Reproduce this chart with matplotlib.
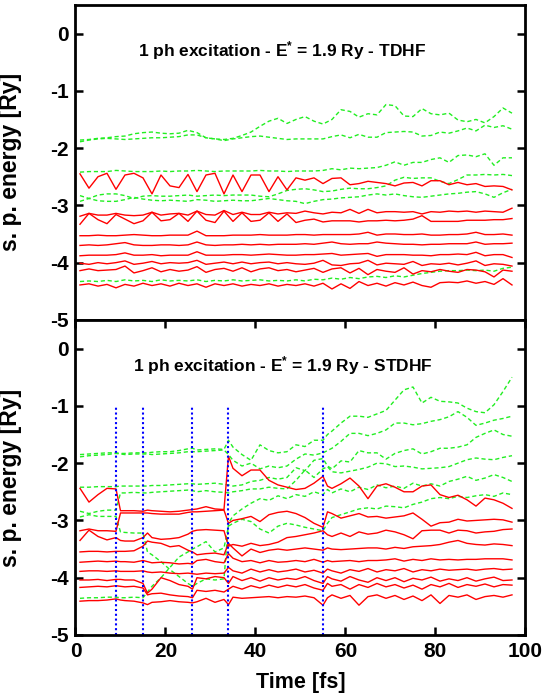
import matplotlib
matplotlib.use("Agg")
import matplotlib.pyplot as plt

plt.rcParams['font.family'] = ['Liberation Sans', 'DejaVu Sans']
plt.rcParams['font.weight'] = 'bold'
plt.rcParams['axes.unicode_minus'] = False
plt.rcParams['mathtext.fontset'] = 'custom'
plt.rcParams['mathtext.bf'] = 'Liberation Sans:bold'
plt.rcParams['mathtext.rm'] = 'Liberation Sans:bold'
plt.rcParams['mathtext.default'] = 'bf'

# ---- time grids [fs] ----
t_top = [1, 3, 5, 7, 9, 11, 13, 15, 17, 19, 21, 23, 25, 27, 29, 31, 33, 35, 37, 39,
         41, 43, 45, 47, 49, 51, 53, 55, 57, 59, 61, 63, 65, 67, 69, 71, 73, 75, 77, 79,
         81, 83, 85, 87, 89, 91, 93, 95, 97]
t_bot = [1, 3, 5, 7, 9, 10, 11, 13, 15, 16, 17, 19, 21, 23, 25, 26, 27, 29, 31, 33,
         34, 35, 37, 39, 41, 43, 45, 47, 49, 51, 53, 55, 56, 57, 59, 61, 63, 65, 67, 69,
         71, 73, 75, 77, 79, 81, 83, 85, 87, 89, 91, 93, 95, 97]

# ---- TDHF panel: occupied (red) and empty (green) s.p. energies [Ry] ----
top_g1 = [-1.86, -1.85, -1.83, -1.82, -1.80, -1.79, -1.75, -1.73, -1.72, -1.74, -1.75, -1.74, -1.69, -1.73, -1.82, -1.84, -1.85, -1.83, -1.78, -1.72,
          -1.62, -1.53, -1.48, -1.57, -1.50, -1.45, -1.53, -1.58, -1.50, -1.33, -1.36, -1.46, -1.40, -1.42, -1.24, -1.26, -1.44, -1.45, -1.31, -1.40,
          -1.42, -1.39, -1.51, -1.54, -1.50, -1.56, -1.45, -1.30, -1.39]
top_g2 = [-1.89, -1.86, -1.84, -1.83, -1.84, -1.85, -1.84, -1.83, -1.82, -1.82, -1.81, -1.80, -1.77, -1.77, -1.82, -1.84, -1.87, -1.84, -1.82, -1.80,
          -1.79, -1.81, -1.83, -1.85, -1.84, -1.84, -1.84, -1.84, -1.80, -1.77, -1.82, -1.76, -1.81, -1.81, -1.73, -1.72, -1.71, -1.72, -1.79, -1.78,
          -1.72, -1.74, -1.70, -1.65, -1.70, -1.60, -1.64, -1.61, -1.67]
top_g3 = [-2.42, -2.41, -2.41, -2.41, -2.39, -2.40, -2.41, -2.41, -2.41, -2.40, -2.41, -2.40, -2.40, -2.39, -2.40, -2.41, -2.40, -2.40, -2.40, -2.40,
          -2.39, -2.40, -2.40, -2.41, -2.40, -2.40, -2.40, -2.39, -2.36, -2.38, -2.35, -2.36, -2.35, -2.34, -2.30, -2.24, -2.30, -2.25, -2.25, -2.20,
          -2.17, -2.25, -2.13, -2.12, -2.15, -2.10, -2.30, -2.17, -2.17]
top_g4 = [-2.83, -2.88, -2.82, -2.80, -2.80, -2.83, -2.88, -2.84, -2.83, -2.84, -2.84, -2.83, -2.82, -2.84, -2.83, -2.82, -2.83, -2.82, -2.82, -2.82,
          -2.84, -2.85, -2.80, -2.74, -2.72, -2.71, -2.73, -2.76, -2.75, -2.72, -2.70, -2.71, -2.71, -2.69, -2.66, -2.56, -2.51, -2.53, -2.52, -2.52,
          -2.58, -2.62, -2.55, -2.47, -2.47, -2.46, -2.47, -2.46, -2.48]
top_g5 = [-2.93, -2.88, -2.92, -2.93, -2.93, -2.90, -2.86, -2.89, -2.91, -2.92, -2.91, -2.92, -2.93, -2.90, -2.91, -2.93, -2.92, -2.91, -2.92, -2.92,
          -2.90, -2.88, -2.90, -2.92, -2.93, -2.97, -2.93, -2.90, -2.89, -2.87, -2.86, -2.85, -2.82, -2.80, -2.82, -2.80, -2.83, -2.85, -2.86, -2.84,
          -2.82, -2.80, -2.79, -2.77, -2.76, -2.80, -2.86, -2.78, -2.72]
top_g6 = [-4.33, -4.32, -4.33, -4.31, -4.33, -4.30, -4.32, -4.31, -4.33, -4.30, -4.32, -4.31, -4.32, -4.30, -4.33, -4.31, -4.32, -4.30, -4.32, -4.31,
          -4.30, -4.32, -4.31, -4.32, -4.30, -4.32, -4.29, -4.30, -4.27, -4.29, -4.26, -4.28, -4.25, -4.24, -4.26, -4.23, -4.25, -4.22, -4.19, -4.17,
          -4.15, -4.14, -4.14, -4.13, -4.14, -4.13, -4.15, -4.10, -4.08]

top_r1 = [-2.45, -2.70, -2.50, -2.44, -2.72, -2.47, -2.44, -2.52, -2.80, -2.47, -2.66, -2.69, -2.46, -2.76, -2.47, -2.44, -2.80, -2.47, -2.76, -2.47,
          -2.47, -2.76, -2.50, -2.73, -2.52, -2.56, -2.52, -2.62, -2.53, -2.52, -2.64, -2.62, -2.58, -2.60, -2.62, -2.66, -2.61, -2.60, -2.66, -2.57,
          -2.57, -2.64, -2.60, -2.64, -2.62, -2.67, -2.66, -2.67, -2.73]
top_r2 = [-3.19, -3.14, -3.17, -3.17, -3.14, -3.17, -3.18, -3.17, -3.12, -3.17, -3.15, -3.14, -3.17, -3.10, -3.16, -3.17, -3.09, -3.16, -3.12, -3.16,
          -3.16, -3.12, -3.15, -3.13, -3.14, -3.10, -3.13, -3.15, -3.12, -3.13, -3.07, -3.14, -3.07, -3.13, -3.11, -3.11, -3.12, -3.11, -3.15, -3.11,
          -3.12, -3.10, -3.11, -3.10, -3.12, -3.10, -3.11, -3.12, -3.05]
top_r3 = [-3.33, -3.14, -3.25, -3.32, -3.16, -3.24, -3.32, -3.27, -3.12, -3.27, -3.25, -3.14, -3.28, -3.10, -3.26, -3.30, -3.10, -3.28, -3.13, -3.28,
          -3.26, -3.13, -3.28, -3.15, -3.30, -3.26, -3.24, -3.29, -3.27, -3.27, -3.27, -3.29, -3.27, -3.27, -3.26, -3.27, -3.26, -3.24, -3.18, -3.28,
          -3.28, -3.28, -3.28, -3.26, -3.26, -3.26, -3.25, -3.25, -3.23]
top_r4 = [-3.53, -3.53, -3.52, -3.53, -3.53, -3.52, -3.51, -3.52, -3.53, -3.53, -3.52, -3.52, -3.52, -3.45, -3.53, -3.53, -3.53, -3.52, -3.52, -3.52,
          -3.51, -3.52, -3.52, -3.52, -3.51, -3.51, -3.52, -3.51, -3.51, -3.51, -3.51, -3.50, -3.47, -3.52, -3.50, -3.50, -3.51, -3.51, -3.50, -3.52,
          -3.52, -3.51, -3.51, -3.50, -3.47, -3.51, -3.51, -3.50, -3.52]
top_r5 = [-3.70, -3.69, -3.70, -3.69, -3.67, -3.65, -3.69, -3.70, -3.70, -3.69, -3.69, -3.70, -3.69, -3.64, -3.69, -3.70, -3.69, -3.69, -3.68, -3.69,
          -3.68, -3.69, -3.68, -3.68, -3.68, -3.67, -3.68, -3.66, -3.64, -3.67, -3.68, -3.67, -3.67, -3.64, -3.66, -3.67, -3.68, -3.68, -3.69, -3.68,
          -3.68, -3.67, -3.67, -3.67, -3.64, -3.68, -3.67, -3.67, -3.66]
top_r6 = [-3.88, -3.87, -3.87, -3.87, -3.86, -3.83, -3.87, -3.87, -3.86, -3.88, -3.87, -3.87, -3.87, -3.81, -3.87, -3.87, -3.87, -3.86, -3.86, -3.87,
          -3.86, -3.85, -3.86, -3.87, -3.87, -3.86, -3.86, -3.85, -3.84, -3.87, -3.86, -3.85, -3.84, -3.89, -3.86, -3.86, -3.86, -3.87, -3.87, -3.88,
          -3.86, -3.86, -3.85, -3.86, -3.82, -3.88, -3.86, -3.86, -3.91]
top_r7 = [-4.01, -4.03, -4.00, -4.02, -4.00, -3.97, -4.03, -4.01, -3.98, -4.02, -4.00, -4.01, -4.00, -3.96, -4.03, -4.01, -3.99, -4.02, -3.99, -4.02,
          -4.00, -3.99, -4.02, -4.00, -4.02, -4.03, -4.01, -3.96, -4.04, -4.05, -4.02, -4.01, -3.96, -4.04, -4.01, -4.02, -4.03, -3.98, -4.05, -4.02,
          -4.03, -4.01, -4.04, -4.01, -3.97, -4.05, -4.02, -4.03, -4.06]
top_r8 = [-4.14, -4.11, -4.14, -4.13, -4.12, -4.06, -4.18, -4.14, -4.09, -4.16, -4.12, -4.15, -4.13, -4.07, -4.17, -4.12, -4.10, -4.15, -4.09, -4.16,
          -4.11, -4.09, -4.14, -4.12, -4.16, -4.13, -4.10, -4.17, -4.11, -4.09, -4.18, -4.10, -4.21, -4.12, -4.15, -4.17, -4.09, -4.20, -4.14, -4.16,
          -4.12, -4.15, -4.17, -4.12, -4.13, -4.16, -4.25, -4.13, -4.15]
top_r9 = [-4.39, -4.37, -4.41, -4.38, -4.44, -4.38, -4.41, -4.36, -4.40, -4.37, -4.41, -4.36, -4.40, -4.37, -4.43, -4.37, -4.40, -4.37, -4.41, -4.38,
          -4.40, -4.37, -4.41, -4.38, -4.40, -4.37, -4.41, -4.36, -4.46, -4.37, -4.45, -4.33, -4.40, -4.36, -4.41, -4.35, -4.39, -4.34, -4.40, -4.43,
          -4.35, -4.34, -4.35, -4.32, -4.36, -4.33, -4.38, -4.28, -4.39]

# ---- STDHF panel ----
bot_g1 = [-1.85, -1.84, -1.83, -1.82, -1.82, -1.83, -1.83, -1.82, -1.82, -1.82, -1.81, -1.80, -1.80, -1.78, -1.75, -1.74, -1.77, -1.76, -1.75, -1.76,
          -1.60, -1.72, -1.85, -1.95, -1.68, -1.78, -1.82, -1.80, -1.68, -1.71, -1.60, -1.60,
          -1.50, -1.44, -1.30, -1.18, -1.18, -1.20, -1.14, -1.08, -0.90, -0.72, -0.67, -0.95, -0.85, -0.92, -0.93, -0.95, -1.04, -1.10, -1.12, -0.98, -0.75, -0.50]
bot_g2 = [-1.89, -1.87, -1.86, -1.85, -1.83, -1.84, -1.85, -1.84, -1.84, -1.84, -1.85, -1.84, -1.83, -1.82, -1.80, -1.80, -1.80, -1.79, -1.78, -1.77,
          -1.85, -1.95, -2.05, -2.00, -2.10, -2.05, -2.08, -2.05, -1.93, -1.84, -1.86, -1.82,
          -1.78, -1.74, -1.62, -1.48, -1.48, -1.52, -1.48, -1.42, -1.30, -1.30, -1.33, -1.31, -1.27, -1.24, -1.19, -1.10, -1.20, -1.34, -1.30, -1.25, -1.22, -1.18]
bot_g3 = [-2.42, -2.42, -2.41, -2.41, -2.41, -2.40, -2.40, -2.40, -2.40, -2.40, -2.39, -2.39, -2.38, -2.37, -2.36, -2.36, -2.37, -2.36, -2.35, -2.37,
          -2.38, -2.40, -2.38, -2.32, -2.30, -2.25, -2.28, -2.25, -2.08, -2.13, -1.95, -1.92,
          -2.05, -2.10, -1.96, -1.98, -1.78, -1.82, -1.82, -1.93, -1.83, -1.78, -1.75, -1.84, -1.80, -1.74, -1.74, -1.72, -1.68, -1.55, -1.48, -1.42, -1.50, -1.53]
bot_g4 = [-2.84, -2.88, -2.84, -2.82, -2.82, -2.52, -2.52, -2.51, -2.52, -2.52, -2.51, -2.50, -2.49, -2.48, -2.47, -2.48, -2.50, -2.48, -2.50, -2.51,
          -2.52, -2.50, -2.48, -2.45, -2.45, -2.42, -2.44, -2.45, -2.30, -2.12, -2.25, -2.10,
          -2.06, -2.15, -2.17, -2.14, -2.11, -2.07, -2.00, -2.01, -2.06, -2.05, -2.07, -2.10, -2.09, -2.08, -2.06, -2.00, -1.94, -1.91, -1.93, -1.94, -1.90, -1.87]
bot_g5 = [-2.94, -2.90, -2.93, -2.93, -2.93, -3.20, -3.21, -3.22, -3.22, -3.55, -3.60, -3.72, -3.86, -3.98, -4.10, -4.15, -4.10, -4.02, -4.04, -4.02,
          -3.05, -2.92, -2.80, -2.70, -2.62, -2.65, -2.57, -2.62, -2.55, -2.58, -2.50, -2.55,
          -2.46, -2.52, -2.45, -2.50, -2.42, -2.46, -2.38, -2.43, -2.40, -2.44, -2.35, -2.40, -2.36, -2.40, -2.32, -2.28, -2.23, -2.30, -2.26, -2.20, -2.25, -2.32]
bot_g6 = [-4.36, -4.35, -4.35, -4.34, -4.34, -4.35, -4.35, -4.34, -4.35, -4.25, -4.15, -4.00, -3.82, -3.64, -3.55, -3.50, -3.46, -3.37, -3.55, -3.48,
          -3.10, -3.05, -2.98, -3.02, -3.15, -3.22, -3.10, -3.05, -3.08, -3.12, -3.15, -3.18,
          -3.05, -2.95, -2.90, -2.85, -2.80, -2.78, -2.80, -2.75, -2.76, -2.78, -2.72, -2.68, -2.62, -2.60, -2.62, -2.58, -2.60, -2.57, -2.55, -2.58, -2.52, -2.55]

bot_r1 = [-2.44, -2.68, -2.55, -2.44, -2.45, -2.83, -2.83, -2.83, -2.84, -2.82, -2.83, -2.84, -2.85, -2.84, -2.82, -2.81, -2.80, -2.76, -2.80, -2.81,
          -1.88, -2.09, -2.22, -2.12, -2.12, -2.30, -2.38, -2.42, -2.46, -2.44, -2.35, -2.23,
          -2.40, -2.44, -2.36, -2.26, -2.40, -2.62, -2.40, -2.36, -2.42, -2.50, -2.50, -2.40, -2.38, -2.55, -2.60, -2.56, -2.64, -2.75, -2.61, -2.64, -2.70, -2.79]
bot_r2 = [-3.18, -3.15, -3.18, -3.18, -3.19, -2.87, -2.87, -2.87, -2.87, -2.87, -2.88, -2.89, -2.89, -2.89, -2.86, -2.85, -2.85, -2.84, -2.83, -2.82,
          -3.05, -3.00, -2.97, -2.93, -3.02, -2.90, -2.86, -2.84, -2.88, -2.95, -3.05, -3.12,
          -2.85, -2.88, -2.96, -2.92, -2.88, -2.94, -2.93, -2.96, -2.94, -2.92, -2.87, -2.98, -3.10, -3.04, -3.03, -2.98, -3.01, -3.00, -2.99, -2.98, -2.99, -3.03]
bot_r3 = [-3.35, -3.17, -3.28, -3.34, -3.30, -3.35, -3.36, -3.36, -3.30, -3.22, -3.30, -3.33, -3.32, -3.30, -3.24, -3.19, -3.17, -3.16, -3.17, -3.18,
          -3.45, -3.42, -3.45, -3.40, -3.44, -3.42, -3.38, -3.30, -3.28, -3.25, -3.22, -3.18,
          -3.25, -3.28, -3.22, -3.28, -3.20, -3.24, -3.22, -3.17, -3.20, -3.25, -3.32, -3.18, -3.17, -3.17, -3.22, -3.17, -3.18, -3.22, -3.20, -3.19, -3.16, -3.15]
bot_r4 = [-3.55, -3.54, -3.54, -3.55, -3.54, -3.54, -3.54, -3.53, -3.45, -3.36, -3.38, -3.40, -3.46, -3.44, -3.52, -3.55, -3.60, -3.58, -3.57, -3.60,
          -3.40, -3.48, -3.62, -3.50, -3.56, -3.52, -3.50, -3.52, -3.50, -3.48, -3.50, -3.52,
          -3.48, -3.50, -3.51, -3.50, -3.49, -3.48, -3.48, -3.50, -3.47, -3.49, -3.46, -3.45, -3.44, -3.42, -3.38, -3.35, -3.40, -3.42, -3.43, -3.41, -3.42, -3.44]
bot_r5 = [-3.73, -3.72, -3.71, -3.72, -3.71, -3.72, -3.72, -3.73, -3.70, -3.72, -3.74, -3.73, -3.74, -3.76, -3.75, -3.76, -3.70, -3.68, -3.72, -3.74,
          -3.58, -3.66, -3.72, -3.70, -3.74, -3.70, -3.73, -3.72, -3.70, -3.72, -3.68, -3.73,
          -3.70, -3.72, -3.71, -3.70, -3.72, -3.70, -3.70, -3.69, -3.67, -3.71, -3.68, -3.70, -3.67, -3.69, -3.68, -3.69, -3.68, -3.68, -3.67, -3.67, -3.67, -3.69]
bot_r6 = [-3.89, -3.88, -3.88, -3.89, -3.88, -3.89, -3.89, -3.89, -3.88, -3.90, -3.91, -3.90, -3.92, -3.93, -3.92, -3.93, -3.94, -3.92, -3.93, -3.92,
          -3.82, -3.88, -3.92, -3.85, -3.90, -3.86, -3.90, -3.88, -3.85, -3.90, -3.87, -3.92,
          -3.85, -3.88, -3.92, -3.86, -3.89, -3.84, -3.90, -3.86, -3.88, -3.84, -3.90, -3.86, -3.88, -3.85, -3.87, -3.86, -3.85, -3.87, -3.85, -3.84, -3.86, -3.85]
bot_r7 = [-4.04, -4.04, -4.03, -4.05, -4.03, -4.03, -4.04, -4.04, -4.10, -4.27, -4.20, -4.00, -4.05, -4.12, -4.15, -4.20, -4.00, -4.02, -3.98, -4.00,
          -4.10, -3.98, -4.05, -4.00, -4.06, -4.00, -4.04, -4.01, -4.03, -3.98, -4.05, -4.10,
          -3.98, -4.02, -4.06, -3.98, -4.04, -4.08, -4.00, -4.05, -4.00, -4.07, -4.01, -4.04, -3.99, -4.06, -4.02, -4.05, -4.00, -4.06, -4.02, -3.99, -4.05, -4.04]
bot_r8 = [-4.17, -4.16, -4.15, -4.16, -4.14, -4.15, -4.16, -4.15, -4.18, -4.30, -4.28, -4.27, -4.30, -4.32, -4.33, -4.35, -4.22, -4.24, -4.22, -4.25,
          -4.20, -4.15, -4.20, -4.14, -4.18, -4.13, -4.17, -4.13, -4.16, -4.12, -4.18, -4.22,
          -4.10, -4.15, -4.12, -4.20, -4.12, -4.17, -4.10, -4.16, -4.12, -4.18, -4.13, -4.20, -4.12, -4.16, -4.10, -4.17, -4.12, -4.15, -4.11, -4.16, -4.12, -4.13]
bot_r9 = [-4.41, -4.40, -4.40, -4.39, -4.37, -4.39, -4.40, -4.41, -4.44, -4.47, -4.43, -4.42, -4.40, -4.42, -4.43, -4.44, -4.42, -4.36, -4.43, -4.38,
          -4.47, -4.34, -4.36, -4.35, -4.34, -4.33, -4.35, -4.33, -4.34, -4.32, -4.35, -4.48,
          -4.35, -4.30, -4.36, -4.31, -4.48, -4.33, -4.30, -4.36, -4.31, -4.38, -4.32, -4.40, -4.30, -4.45, -4.31, -4.34, -4.30, -4.38, -4.33, -4.31, -4.34, -4.30]

# times of the stochastic jumps (blue dotted markers)
jump_times = [9, 15, 26, 34, 55]
jump_top = -1.0

top_green = [top_g1, top_g2, top_g3, top_g4, top_g5, top_g6]
top_red = [top_r1, top_r2, top_r3, top_r4, top_r5, top_r6, top_r7, top_r8, top_r9]
bot_green = [bot_g1, bot_g2, bot_g3, bot_g4, bot_g5, bot_g6]
bot_red = [bot_r1, bot_r2, bot_r3, bot_r4, bot_r5, bot_r6, bot_r7, bot_r8, bot_r9]

RED = '#ff0000'
GREEN = '#22ee22'
BLUE = '#0000ff'

fig = plt.figure(figsize=(5.45, 7.0), dpi=100)
ax1 = fig.add_axes([0.1385, 0.543, 0.8257, 0.450])
ax2 = fig.add_axes([0.1385, 0.0929, 0.8257, 0.450])


def draw_panel(ax, t, reds, greens, title):
    for e in greens:
        ax.plot(t, e, color=GREEN, lw=1.0, dashes=(3, 2))
    for e in reds:
        ax.plot(t, e, color=RED, lw=1.0)
    ax.set_xlim(0, 100)
    ax.set_ylim(-5, 0.5)
    ax.set_yticks([0, -1, -2, -3, -4, -5])
    ax.set_xticks([0, 20, 40, 60, 80, 100])
    for s in ax.spines.values():
        s.set_linewidth(2.0)
    ax.tick_params(direction='in', length=6, width=1.8, labelsize=15, pad=5,
                   left=True, right=True)
    ax.set_ylabel('s. p. energy [Ry]', fontsize=16.5, fontweight='bold')
    ax.yaxis.set_label_coords(-0.118, 0.5)
    ax.text(46, -0.29, title, ha='center', va='center', fontsize=12.5,
            fontweight='bold')


draw_panel(ax1, t_top, top_red, top_green,
           r'1 ph excitation - E$^{*}$ = 1.9 Ry - TDHF')
ax1.tick_params(axis='x', bottom=False, top=False, labelbottom=False)

draw_panel(ax2, t_bot, bot_red, bot_green,
           r'1 ph excitation - E$^{*}$ = 1.9 Ry - STDHF')
ax2.tick_params(axis='x', bottom=True, top=True)
ax2.vlines(jump_times, -5, jump_top, colors=BLUE, lw=1.5,
           linestyles=(0, (1, 1.3)))
ax2.set_xlabel('Time [fs]', fontsize=15.5, fontweight='bold', labelpad=8)

fig.savefig('out.png', dpi=100)
